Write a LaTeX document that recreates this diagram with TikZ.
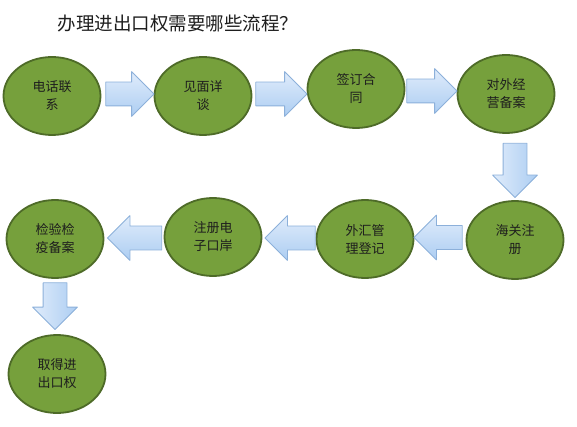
\documentclass[tikz,border=0pt]{standalone}
\usepackage{fontspec}
\newfontfamily\cjk{Noto Sans CJK SC}
\usetikzlibrary{shapes.geometric,shapes.arrows,calc}
\definecolor{stepfill}{RGB}{118,160,60}
\definecolor{stepedge}{RGB}{78,107,40}
\definecolor{arrowtop}{RGB}{224,236,251}
\definecolor{arrowbot}{RGB}{172,205,242}
\definecolor{arrowedge}{RGB}{140,176,218}
\definecolor{inkgray}{RGB}{30,30,30}
% block arrow from one point to another: [options]{name}{tail}{tip}
\newcommand\blockarrow[4][]{%
  \path let \p1=#3, \p2=#4, \n1={veclen(\x2-\x1,\y2-\y1)}, \n2={atan2(\y2-\y1,\x2-\x1)} in
  node[barrow,minimum height=\n1,rotate=\n2,anchor=tail,#1] (#2) at (\p1) {};}
\begin{document}
\begin{tikzpicture}[x=1pt,y=-1pt, line join=round,
	stepnode/.style={ellipse,draw=stepedge,line width=1.8pt,fill=stepfill,
		minimum width=97pt,minimum height=78pt,inner sep=0pt,align=center,
		text=inkgray,font=\cjk\fontsize{13}{18}\selectfont},
	barrow/.style={single arrow,draw=arrowedge,line width=0.8pt,
		top color=arrowtop,bottom color=arrowbot,
		single arrow head extend=10.5pt,single arrow tip angle=90,
		single arrow head indent=0pt,inner xsep=0pt,inner ysep=11.5pt,minimum width=0pt},
	title/.style={text=inkgray,font=\cjk\fontsize{18.5}{21}\selectfont}]
	\useasboundingbox (0,0) rectangle (577,427);
	\node[title,anchor=west] (title) at (54,24) {办理进出口权需要哪些流程？};
	% first row
	\node[stepnode] (e1) at (52,96) {电话联\\系};
	\node[stepnode] (e2) at (203,96) {见面详\\谈};
	\node[stepnode] (e3) at (356,89) {签订合\\同};
	\node[stepnode] (e4) at (506,94) {对外经\\营备案};
	% second row
	\node[stepnode] (e5) at (515,240) {海关注\\册};
	\node[stepnode] (e6) at (365,239) {外汇管\\理登记};
	\node[stepnode] (e7) at (213,237) {注册电\\子口岸};
	\node[stepnode] (e8) at (55,239) {检验检\\疫备案};
	\node[stepnode] (e9) at (57,374) {取得进\\出口权};
	% arrows
	\blockarrow{a1}{($(e1.east)+(4,-2)$)}{($(e2.west)+(0,-2)$)}
	\blockarrow{a2}{($(e2.east)+(3,-2)$)}{($(e3.west)+(0,5)$)}
	\blockarrow{a3}{($(e3.east)+(1,2)$)}{($(e4.west)+(0,-3)$)}
	\blockarrow[left color=arrowtop,right color=arrowbot]{a4}{($(e4.south)+(9,9)$)}{($(e5.north)+(0,-3)$)}
	\blockarrow{a5}{($(e5.west)+(-3,-2.5)$)}{($(e6.east)+(0,-1.5)$)}
	\blockarrow{a6}{($(e6.west)+(0,-1)$)}{($(e7.east)+(3,1)$)}
	\blockarrow{a7}{($(e7.west)+(-1.5,1)$)}{($(e8.east)+(3.5,-1)$)}
	\blockarrow[left color=arrowtop,right color=arrowbot]{a8}{($(e8.south)+(0,3.5)$)}{($(e9.north)+(-2,-5)$)}
\end{tikzpicture}
\end{document}
